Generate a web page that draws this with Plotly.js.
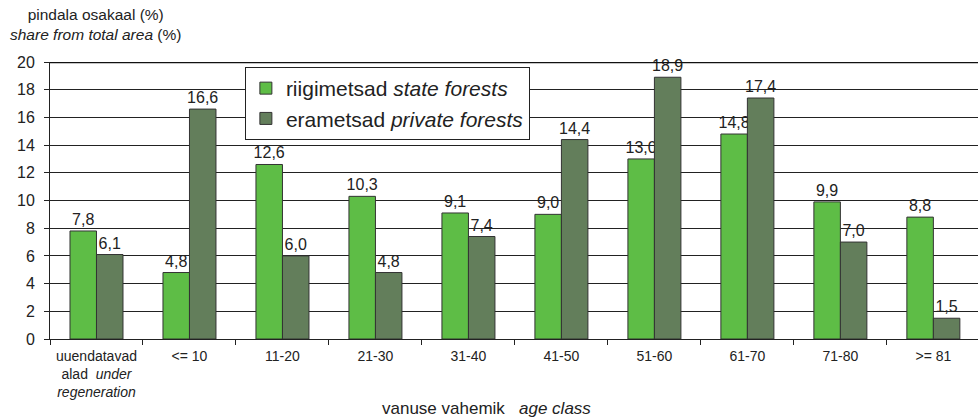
<!DOCTYPE html>
<html>
<head>
<meta charset="utf-8">
<script src="https://cdn.plot.ly/plotly-3.0.1.min.js"></script>
<style>html,body{margin:0;padding:0;background:#fff;}#chart{width:978px;height:417px;}</style>
</head>
<body>
<div id="chart"></div>
<script>
var categories = ["uuendatavad<br>alad  <i>under</i><br><i>regeneration</i>", "<= 10", "11-20", "21-30", "31-40", "41-50", "51-60", "61-70", "71-80", ">= 81"];
var stateForests = [7.8, 4.8, 12.6, 10.3, 9.1, 9.0, 13.0, 14.8, 9.9, 8.8];
var privateForests = [6.1, 16.6, 6.0, 4.8, 7.4, 14.4, 18.9, 17.4, 7.0, 1.5];
var yTicks = [0, 2, 4, 6, 8, 10, 12, 14, 16, 18, 20];

function fmt(v) { return v.toFixed(1).replace('.', ','); }

var font = "Liberation Sans, Arial, sans-serif";

var traces = [
  {
    type: 'bar', x: categories, y: stateForests,
    name: 'riigimetsad <i>state forests</i>',
    marker: {color: '#5EBD46', line: {color: '#333', width: 1}},
    text: stateForests.map(fmt), textposition: 'outside', cliponaxis: false, constraintext: 'none',
    textfont: {family: font, size: 16, color: '#222'}
  },
  {
    type: 'bar', x: categories, y: privateForests,
    name: 'erametsad <i>private forests</i>',
    marker: {color: '#637E5B', line: {color: '#333', width: 1}},
    text: privateForests.map(fmt), textposition: 'outside', cliponaxis: false, constraintext: 'none',
    textfont: {family: font, size: 16, color: '#222'}
  }
];

var layout = {
  width: 978, height: 417,
  margin: {l: 50, r: 0, t: 62, b: 78},
  paper_bgcolor: '#fff', plot_bgcolor: '#fff',
  font: {family: font, color: '#222'},
  barmode: 'group', bargap: 0.43, bargroupgap: 0,
  showlegend: true,
  legend: {
    x: 0.21, y: 0.982, xanchor: 'left', yanchor: 'top',
    bgcolor: '#fff', bordercolor: '#222', borderwidth: 1,
    font: {family: font, size: 21, color: '#222'},
    tracegroupgap: 0
  },
  xaxis: {
    type: 'category', range: [-0.5, 9.48],
    tickson: 'boundaries', ticks: 'outside', ticklen: 5, tickcolor: '#222', ticklabelstandoff: 4,
    showline: true, linecolor: '#222', linewidth: 1,
    showgrid: false, tickangle: 0,
    tickfont: {family: font, size: 14, color: '#222'}
  },
  yaxis: {
    range: [0, 20], tickvals: yTicks, ticktext: yTicks.map(String),
    ticks: 'outside', ticklen: 5, tickcolor: '#222', ticklabelstandoff: 6,
    showline: true, linecolor: '#222', linewidth: 1,
    showgrid: true, gridcolor: '#222', gridwidth: 1,
    zeroline: false,
    tickfont: {family: font, size: 16, color: '#222'}
  },
  shapes: [
    {type: 'line', xref: 'paper', yref: 'y', x0: 0, x1: 1, y0: 20, y1: 20, line: {color: '#111', width: 2.5}}
  ],
  annotations: [
    {xref: 'paper', yref: 'paper', x: (95 - 50) / 928, y: 1.0, xanchor: 'center', yanchor: 'bottom', yshift: 17,
     showarrow: false, align: 'center',
     text: 'pindala osakaal (%)<br><i>share from total area</i> (%)',
     font: {family: font, size: 15.5, color: '#222'}},
    {xref: 'paper', yref: 'paper', x: (486 - 50) / 928, y: 0, xanchor: 'center', yanchor: 'middle', yshift: -69,
     showarrow: false,
     text: 'vanuse vahemik   <i>age class</i>',
     font: {family: font, size: 17, color: '#222'}}
  ]
};

Plotly.newPlot('chart', traces, layout, {displayModeBar: false, staticPlot: true});
</script>
</body>
</html>
